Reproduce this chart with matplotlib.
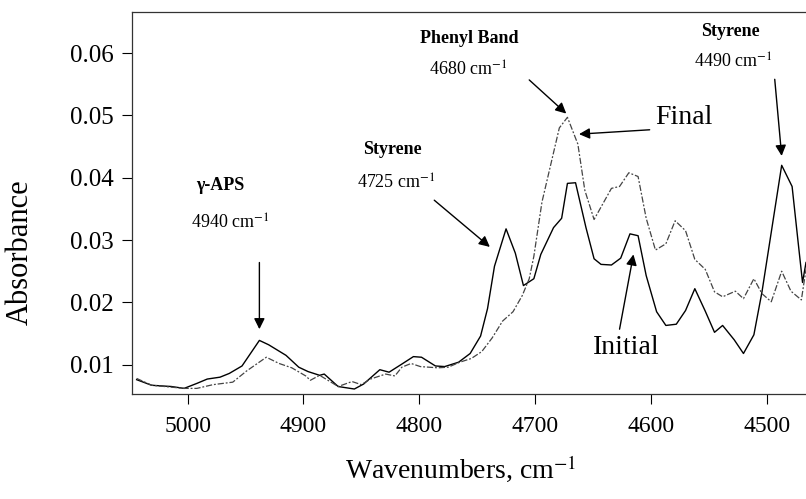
import numpy as np
import matplotlib
matplotlib.use("Agg")
import matplotlib.pyplot as plt

matplotlib.rcParams["font.family"] = ["Liberation Serif", "DejaVu Serif"]
matplotlib.rcParams["mathtext.fontset"] = "stix"

# Initial spectrum (solid)
wn_init = [5044, 5031, 5014, 5003, 4992, 4983, 4972, 4964, 4953, 4938,
           4930, 4915, 4904, 4896, 4886, 4882, 4870, 4856, 4848, 4834,
           4826, 4815, 4805, 4798, 4786, 4778, 4766, 4756, 4747, 4741,
           4735, 4725, 4717, 4710, 4701, 4695, 4684, 4677, 4672, 4665,
           4656, 4649, 4643, 4634, 4626, 4618, 4611, 4604, 4595, 4587,
           4578, 4570, 4562, 4553, 4545, 4538, 4528, 4520, 4511, 4504,
           4487, 4478, 4473, 4469, 4466]
abs_init = [0.0076, 0.0067, 0.0065, 0.0062, 0.0070, 0.0077, 0.0080, 0.0086, 0.0098, 0.0139,
            0.0132, 0.0115, 0.0096, 0.0089, 0.0083, 0.0085, 0.0065, 0.0061, 0.0069, 0.0092,
            0.0088, 0.0101, 0.0113, 0.0112, 0.0098, 0.0097, 0.0104, 0.0118, 0.0146, 0.0190,
            0.0258, 0.0318, 0.0279, 0.0227, 0.0238, 0.0277, 0.0320, 0.0335, 0.0391, 0.0392,
            0.0320, 0.0270, 0.0261, 0.0260, 0.0271, 0.0310, 0.0307, 0.0243, 0.0185, 0.0163,
            0.0165, 0.0187, 0.0222, 0.0186, 0.0152, 0.0163, 0.0140, 0.0118, 0.0148, 0.0217,
            0.0420, 0.0386, 0.0300, 0.0232, 0.0264]

# Final spectrum (dashed)
wn_final = [5044, 5031, 5003, 4992, 4978, 4961, 4949, 4932, 4921, 4910,
            4898, 4894, 4886, 4877, 4870, 4858, 4850, 4842, 4829, 4821,
            4815, 4807, 4799, 4784, 4775, 4765, 4755, 4746, 4737, 4728,
            4719, 4711, 4705, 4701, 4694, 4679, 4672, 4663, 4657, 4649,
            4634, 4627, 4619, 4611, 4604, 4596, 4587, 4579, 4570, 4562,
            4553, 4545, 4538, 4527, 4520, 4511, 4504, 4496, 4487, 4479,
            4470, 4466]
abs_final = [0.0078, 0.0067, 0.0062, 0.0062, 0.0068, 0.0072, 0.0090, 0.0112, 0.0102, 0.0095,
             0.0082, 0.0075, 0.0083, 0.0073, 0.0065, 0.0073, 0.0068, 0.0077, 0.0085, 0.0082,
             0.0096, 0.0102, 0.0097, 0.0095, 0.0096, 0.0104, 0.0110, 0.0121, 0.0143, 0.0170,
             0.0185, 0.0211, 0.0238, 0.0274, 0.0361, 0.0480, 0.0497, 0.0454, 0.0380, 0.0333,
             0.0383, 0.0386, 0.0408, 0.0402, 0.0335, 0.0284, 0.0294, 0.0331, 0.0315, 0.0269,
             0.0253, 0.0217, 0.0209, 0.0218, 0.0206, 0.0238, 0.0214, 0.0201, 0.0250, 0.0218,
             0.0204, 0.0253]

xticks = [5000, 4900, 4800, 4700, 4600, 4500]
yticks = [0.01, 0.02, 0.03, 0.04, 0.05, 0.06]

fig = plt.figure(figsize=(8.06, 4.99), dpi=100)
ax = fig.add_axes([132/806, 105/499, 674/806, 382/499])

ax.plot(wn_init, abs_init, color="k", lw=1.0)
ax.plot(wn_final, abs_final, color="#444444", lw=0.9, linestyle=(0, (5, 1.5, 1.5, 1.5)))

ax.set_xlim(5048, 4466)
ax.set_ylim(0.0053, 0.0666)
ax.set_xticks(xticks)
ax.set_xticklabels([str(t) for t in xticks])
ax.set_yticks(yticks)
ax.set_yticklabels(["%.2f" % t for t in yticks])
ax.tick_params(axis="both", direction="out", length=7, width=0.8)
ax.tick_params(axis="x", pad=9, labelsize=17)
ax.tick_params(axis="y", pad=6, labelsize=18)
ax.spines["right"].set_visible(False)
for s in ["left", "top", "bottom"]:
    ax.spines[s].set_linewidth(0.9)
    ax.spines[s].set_color("#333333")

ax.set_ylabel("Absorbance", fontsize=22)
ax.yaxis.set_label_coords(-0.145, 0.37)
ax.set_xlabel("Wavenumbers, cm$^{-1}$", fontsize=20)
ax.xaxis.set_label_coords(0.487, -0.155)

arr = dict(arrowstyle="-|>", color="k", lw=1.0, mutation_scale=16, shrinkA=0, shrinkB=0)

# gamma-APS
ax.text(4972, 0.0388, "γ-APS", fontsize=13, fontweight="bold", ha="center", va="center")
ax.text(4963, 0.0327, "4940 cm$^{-1}$", fontsize=13, ha="center", va="center")
ax.annotate("", xy=(4938, 0.0157), xytext=(4938, 0.0264), arrowprops=arr)

# Styrene 4725
ax.text(4823, 0.0446, "Styrene", fontsize=13, fontweight="bold", ha="center", va="center")
ax.text(4820, 0.0392, "4725 cm$^{-1}$", fontsize=13, ha="center", va="center")
ax.annotate("", xy=(4739, 0.0289), xytext=(4787, 0.0364), arrowprops=arr)

# Phenyl band
ax.text(4757, 0.0624, "Phenyl Band", fontsize=13, fontweight="bold", ha="center", va="center")
ax.text(4758, 0.0572, "4680 cm$^{-1}$", fontsize=13, ha="center", va="center")
ax.annotate("", xy=(4673, 0.0503), xytext=(4705, 0.0557), arrowprops=arr)

# Styrene 4490
ax.text(4531, 0.0634, "Styrene", fontsize=13, fontweight="bold", ha="center", va="center")
ax.text(4529, 0.0586, "4490 cm$^{-1}$", fontsize=13, ha="center", va="center")
ax.annotate("", xy=(4487, 0.0435), xytext=(4493, 0.0558), arrowprops=arr)

# Final / Initial
ax.text(4596, 0.0497, "Final", fontsize=20, ha="left", va="center")
ax.annotate("", xy=(4662, 0.0470), xytext=(4601, 0.0477), arrowprops=arr)
ax.text(4621, 0.0127, "Initial", fontsize=20, ha="center", va="center")
ax.annotate("", xy=(4615, 0.0277), xytext=(4627, 0.0157), arrowprops=arr)

fig.savefig("out.png", dpi=100)
